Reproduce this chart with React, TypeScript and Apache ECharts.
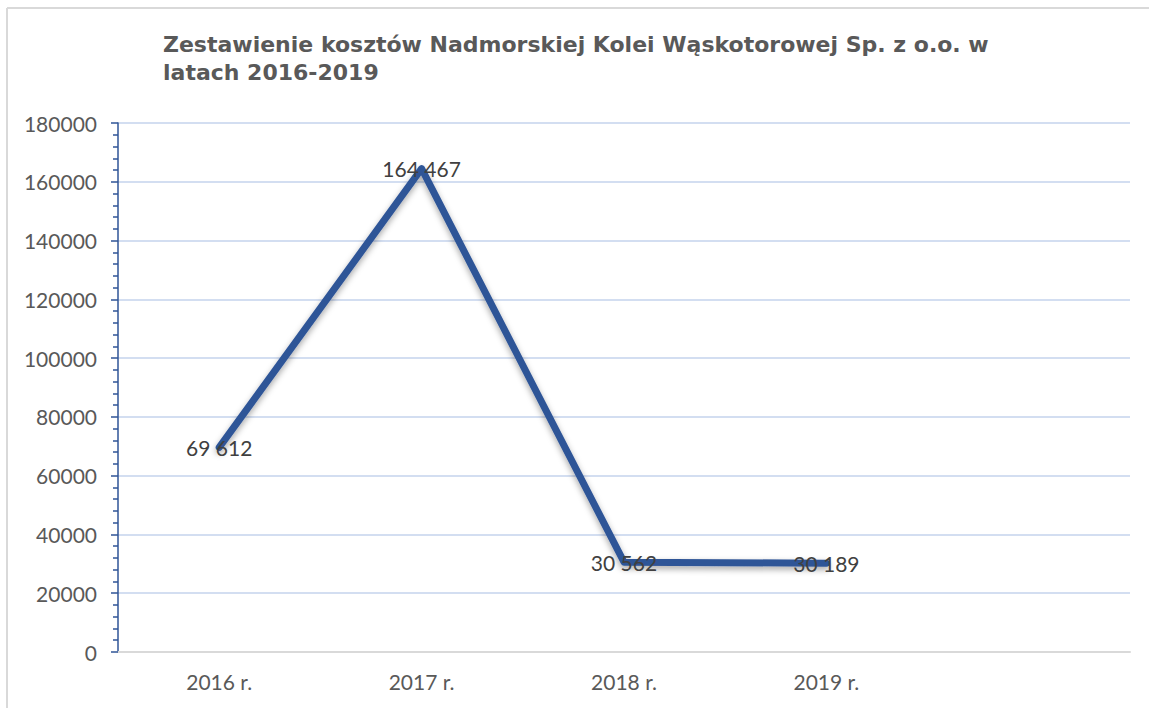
import React, { useEffect, useRef } from "react";
import * as echarts from "echarts";

const titleText = "Zestawienie kosztów Nadmorskiej Kolei Wąskotorowej Sp. z o.o. w\nlatach 2016-2019";
const categories = ["2016 r.", "2017 r.", "2018 r.", "2019 r.", ""];
const costs = [69612, 164467, 30562, 30189];
const yTicks = { min: 0, max: 180000, interval: 20000 };

const fmt = (v: number) => String(v).replace(/\B(?=(\d{3})+(?!\d))/g, " ");

export default function App() {
  const ref = useRef<HTMLDivElement>(null);
  useEffect(() => {
    if (!ref.current) return;
    const chart = echarts.init(ref.current, null, { renderer: "svg" });
    chart.setOption({
      animation: false,
      backgroundColor: "#ffffff",
      title: {
        text: titleText,
        left: 163,
        top: 30,
        padding: 0,
        textStyle: {
          fontFamily: "DejaVu Sans",
          fontWeight: "bold",
          fontSize: 22,
          lineHeight: 28,
          color: "#595959",
        },
      },
      graphic: [
        { type: "line", shape: { x1: 7, y1: 8, x2: 1149, y2: 8 }, style: { stroke: "#d9d9d9", lineWidth: 2 } },
        { type: "line", shape: { x1: 7, y1: 8, x2: 7, y2: 708 }, style: { stroke: "#d9d9d9", lineWidth: 2 } },
      ],
      grid: { left: 118, right: 19, top: 123, bottom: 56, containLabel: false },
      xAxis: {
        type: "category",
        data: categories,
        boundaryGap: true,
        axisLine: { show: true, lineStyle: { color: "#d9d9d9", width: 2 } },
        axisTick: { show: false },
        axisLabel: {
          margin: 19,
          fontFamily: "Lato",
          fontSize: 21,
          color: "#595959",
        },
        splitLine: { show: false },
      },
      yAxis: {
        type: "value",
        min: yTicks.min,
        max: yTicks.max,
        interval: yTicks.interval,
        axisLine: { show: true, lineStyle: { color: "#2f5597", width: 1.5 } },
        axisTick: { show: true, inside: false, length: 7, lineStyle: { color: "#2f5597", width: 1.5 } },
        minorTick: { show: true, splitNumber: 5, length: 5, lineStyle: { color: "#2f5597", width: 1.5 } },
        axisLabel: {
          margin: 21,
          fontFamily: "Lato",
          fontSize: 21,
          color: "#595959",
          formatter: (v: number) => String(v),
        },
        splitLine: { show: true, lineStyle: { color: "#c5d3ec", width: 1.5 } },
      },
      series: [
        {
          type: "line",
          data: costs,
          symbol: "circle",
          symbolSize: 2,
          itemStyle: { color: "#2f5597" },
          lineStyle: {
            color: "#2f5597",
            width: 7,
            shadowColor: "rgba(0,0,0,0.35)",
            shadowBlur: 6,
            shadowOffsetY: 3,
            cap: "round",
            join: "round",
          },
          label: {
            show: true,
            position: "inside",
            formatter: (p: any) => fmt(p.value),
            fontFamily: "Lato",
            fontSize: 21,
            color: "#404040",
          },
        },
      ],
    });
    return () => chart.dispose();
  }, []);
  return (
    <div
      ref={ref}
      style={{ position: "absolute", left: 0, top: 0, width: 1149, height: 708 }}
    />
  );
}
